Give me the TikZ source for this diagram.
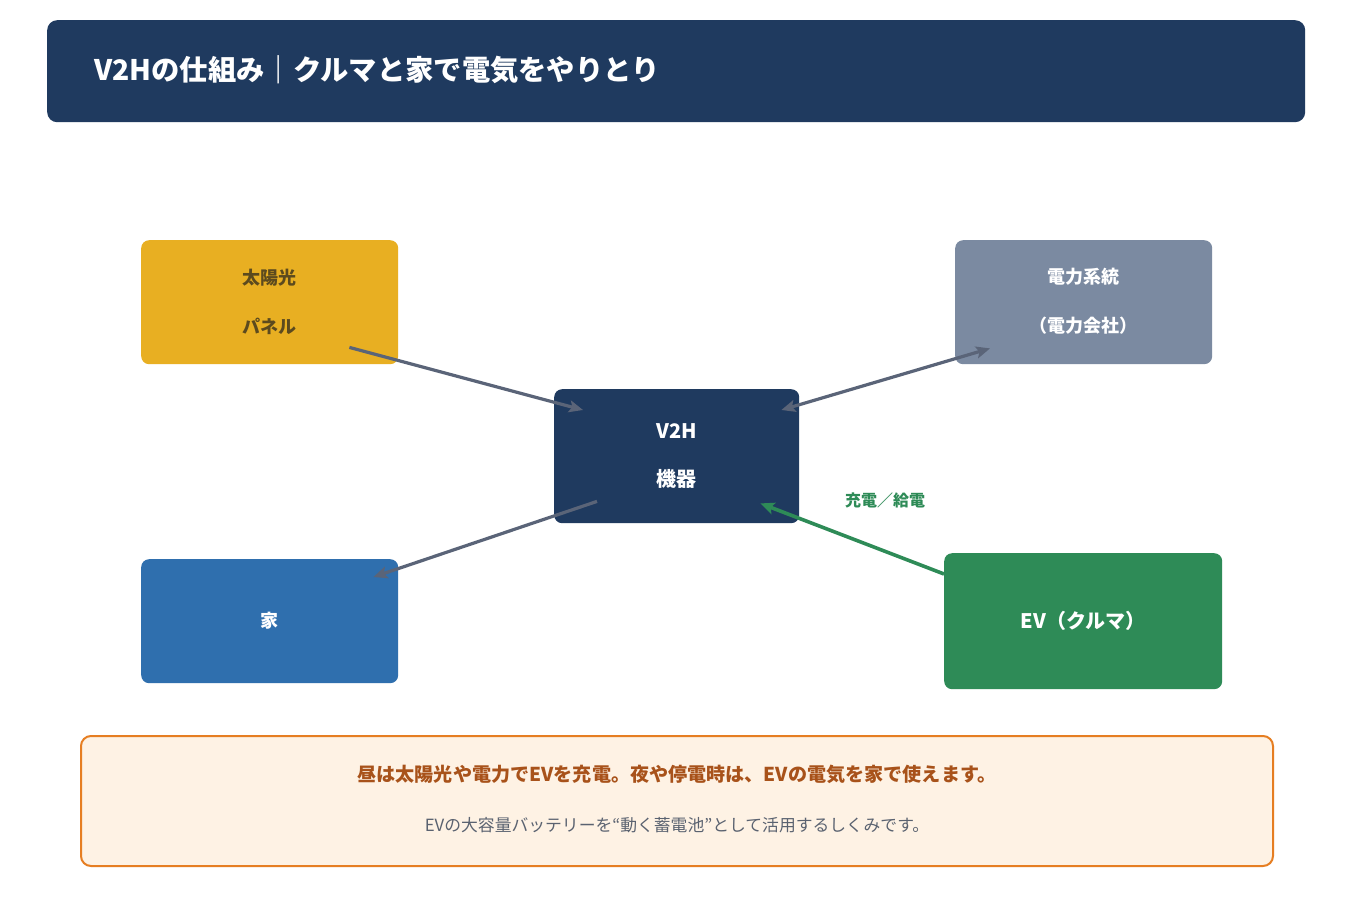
\documentclass[tikz,border=0pt]{standalone}
\usepackage{fontspec}
\setmainfont{Noto Sans CJK JP}
\usetikzlibrary{arrows.meta,calc}
\definecolor{navy}{HTML}{1F3A5F}
\definecolor{solar}{HTML}{E8AF22}
\definecolor{solartext}{HTML}{5C4A1E}
\definecolor{grid}{HTML}{7B8AA1}
\definecolor{house}{HTML}{2F6FAE}
\definecolor{evgreen}{HTML}{2E8B57}
\definecolor{arrowgray}{HTML}{5A6478}
\definecolor{notefill}{HTML}{FEF2E4}
\definecolor{noteborder}{HTML}{E67E22}
\definecolor{notetext}{HTML}{A8521A}
\definecolor{subtext}{HTML}{5A6270}
\tikzset{
  box/.style={rounded corners=8pt, anchor=north west, inner sep=0pt, align=center,
    font=\bfseries\fontsize{18}{49}\selectfont},
  flow/.style={draw=arrowgray, line width=3.2pt, -{Stealth[length=14pt,width=12pt,inset=3pt]}},
  flowboth/.style={draw=arrowgray, line width=3.2pt, {Stealth[length=14pt,width=12pt,inset=3pt]}-{Stealth[length=14pt,width=12pt,inset=3pt]}},
  greenflow/.style={draw=evgreen, line width=3.6pt, -{Stealth[length=14pt,width=12pt,inset=3pt]}}
}
\begin{document}
\begin{tikzpicture}[x=1pt,y=-1pt]
\useasboundingbox[fill=white] (0,0) rectangle (1353,913);
% title
\node[rounded corners=10pt, fill=navy, anchor=north west, minimum width=1258pt, minimum height=102pt, inner sep=0pt] (title) at (47,20) {};
\node[anchor=west, text=white, font=\bfseries\fontsize{28.3}{32}\selectfont, inner sep=0pt] (titletext) at (94,70) {V2Hの仕組み｜クルマと家で電気をやりとり};
% boxes
\node[box, fill=solar, text=solartext, minimum width=257pt, minimum height=124pt] (solarbox) at (141,240) {};
\node[text=solartext, font=\bfseries\fontsize{18}{49}\selectfont, align=center] (solartxt) at (solarbox.center) {太陽光\\パネル};
\node[box, fill=grid, minimum width=257pt, minimum height=124pt] (gridbox) at (955,240) {};
\node[text=white, font=\bfseries\fontsize{18}{49}\selectfont, align=center] (gridtxt) at ([yshift=1pt]gridbox.center) {電力系統\\（電力会社）};
\node[box, fill=navy, minimum width=245pt, minimum height=134pt] (v2h) at (554,389) {};
\node[text=white, font=\bfseries\fontsize{20}{48}\selectfont, align=center] (v2htxt) at (v2h.center) {V2H\\機器};
\node[box, fill=house, minimum width=257pt, minimum height=124pt] (housebox) at (141,559) {};
\node[text=white, font=\bfseries\fontsize{18}{24}\selectfont] (housetxt) at ([yshift=1pt]housebox.center) {家};
\node[box, fill=evgreen, minimum width=278pt, minimum height=136pt] (evbox) at (944,553) {};
\node[text=white, font=\bfseries\fontsize{20}{24}\selectfont] (evtxt) at (evbox.center) {EV（クルマ）};
% label
\node[text=evgreen, font=\bfseries\fontsize{16}{20}\selectfont] (lbl) at (885,500) {充電／給電};
% arrows
\draw[flow] ([shift={(-49,-17)}]solarbox.south east) -- ([shift={(29,21)}]v2h.north west);
\draw[flowboth] ([shift={(-18,21)}]v2h.north east) -- ([shift={(35,-16)}]gridbox.south west);
\draw[flow] ([shift={(43,-22)}]v2h.south west) -- ([shift={(-25,18)}]housebox.north east);
\draw[greenflow] ([shift={(0,21)}]evbox.north west) -- ([shift={(-39,-20)}]v2h.south east);
% note
\node[rounded corners=10pt, fill=notefill, draw=noteborder, line width=2pt, anchor=north west, minimum width=1192pt, minimum height=130pt, inner sep=0pt] (note) at (80,735) {};
\node[text=notetext, font=\bfseries\fontsize{19.1}{22}\selectfont] (note1) at (677,774) {昼は太陽光や電力でEVを充電。夜や停電時は、EVの電気を家で使えます。};
\node[text=subtext, font=\fontsize{16.8}{20}\selectfont] (note2) at (677,825) {EVの大容量バッテリーを“動く蓄電池”として活用するしくみです。};
\end{tikzpicture}
\end{document}
